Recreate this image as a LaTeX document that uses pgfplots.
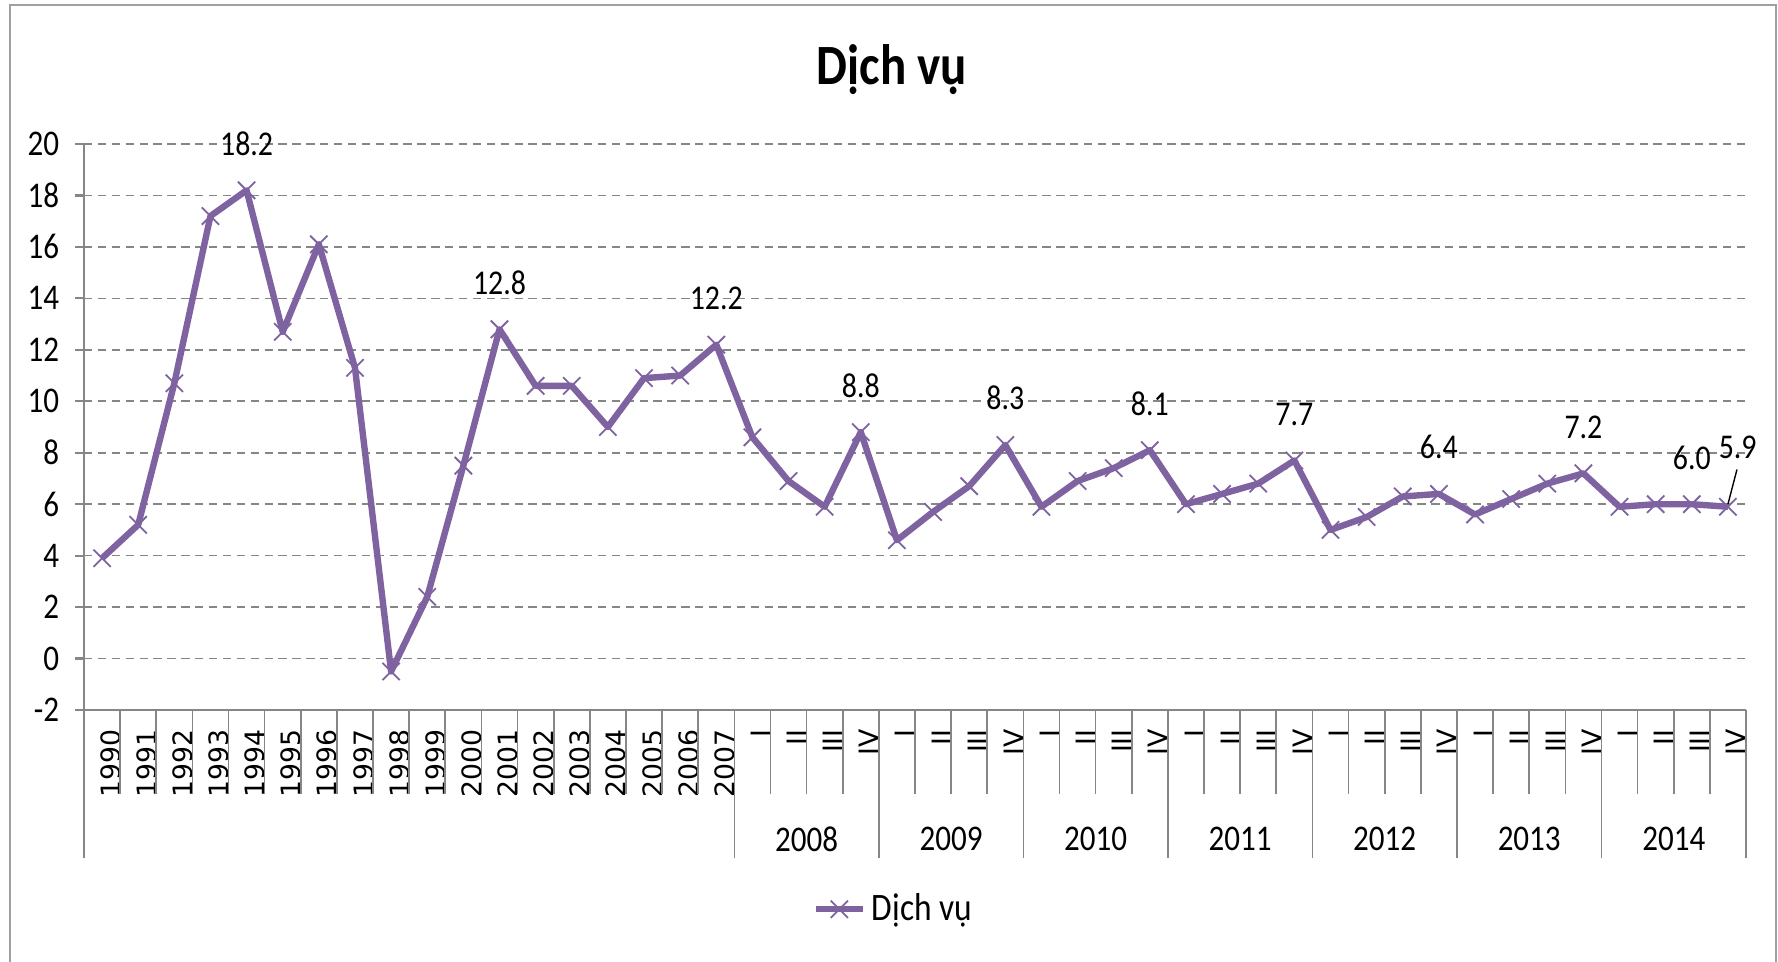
\documentclass[border=0pt]{standalone}
\usepackage{fontspec}
\setmainfont{Carlito}[FakeStretch=0.86]
\newfontfamily\dejavu{DejaVu Sans}
\usepackage{graphicx}
\usepackage{pgfplots}
\pgfplotsset{compat=1.18}
\definecolor{series}{HTML}{7F63A1}
\definecolor{axgray}{HTML}{868686}
\definecolor{framegray}{HTML}{A0A0A0}

\begin{document}
\begin{tikzpicture}
\useasboundingbox (0,0) rectangle (640.08pt,-345.96pt);
\begin{scope}[x=0.36pt,y=-0.36pt]
  \draw[framegray, line width=0.8pt] (10,975) -- (10,5) -- (1776,5) -- (1776,975);
  \node at (892,70) {\fontsize{20.5}{24}\selectfont\bfseries Dịch vụ};
\end{scope}
\begin{axis}[
  at={(30.24pt,-255.6pt)}, anchor=south west,
  scale only axis, width=598.32pt, height=203.76pt,
  xmin=-0.5, xmax=45.5, ymin=-2, ymax=20,
  ytick={-2,0,...,20},
  xtick={0,...,45},
  xticklabels={1990,1991,1992,1993,1994,1995,1996,1997,1998,1999,2000,2001,2002,2003,2004,2005,2006,2007,
    I,II,III,IV,I,II,III,IV,I,II,III,IV,I,II,III,IV,I,II,III,IV,I,II,III,IV,I,II,III,IV},
  axis x line*=bottom, axis y line*=left,
  axis line style={axgray, line width=0.8pt, -},
  xtick style={draw=none},
  ytick style={axgray, line width=0.8pt},
  tick align=outside, major tick length=3.4pt,
  ymajorgrids,
  major grid style={axgray, line width=0.6pt, dash pattern=on 3pt off 2pt},
  xticklabel style={rotate=90, anchor=east, font=\dejavu\fontsize{9.6}{10}\selectfont, yshift=-3pt},
  yticklabel style={font=\fontsize{13}{15}\selectfont, xshift=-2pt},
  /pgf/number format/assume math mode=true,
  legend style={at={(0.488,-0.352)}, anchor=center, draw=none, fill=none,
    font=\fontsize{14}{16}\selectfont},
  clip=false,
]
\addplot[series, line width=2.3pt, line join=round, mark=x, mark size=4.4pt,
  mark options={line width=0.65pt, solid},
  nodes near coords, point meta=explicit symbolic,
  every node near coord/.append style={anchor=south, yshift=8.9pt, black, font=\fontsize{12.5}{14}\selectfont}]
  table[x=x, y=y, meta=lab, col sep=comma, row sep=\\] {
x,y,lab\\
0,3.9,\\
1,5.2,\\
2,10.7,\\
3,17.2,\\
4,18.2,18.2\\
5,12.7,\\
6,16.1,\\
7,11.3,\\
8,-0.5,\\
9,2.4,\\
10,7.5,\\
11,12.8,12.8\\
12,10.6,\\
13,10.6,\\
14,9.0,\\
15,10.9,\\
16,11.0,\\
17,12.2,12.2\\
18,8.6,\\
19,6.9,\\
20,5.9,\\
21,8.8,8.8\\
22,4.6,\\
23,5.7,\\
24,6.7,\\
25,8.3,8.3\\
26,5.9,\\
27,6.9,\\
28,7.4,\\
29,8.1,8.1\\
30,6.0,\\
31,6.4,\\
32,6.8,\\
33,7.7,7.7\\
34,5.0,\\
35,5.5,\\
36,6.3,\\
37,6.4,6.4\\
38,5.6,\\
39,6.2,\\
40,6.8,\\
41,7.2,7.2\\
42,5.9,\\
43,6.0,\\
44,6.0,6.0\\
45,5.9,\\
};
\addlegendentry{Dịch vụ}
\draw[black, line width=0.5pt] (axis cs:45,6.0) -- (axis cs:45.25,7.35);
\node[font=\fontsize{12.5}{14}\selectfont] at (axis cs:45.27,8.22) {5.9};
\end{axis}
\begin{scope}[x=0.36pt,y=-0.36pt]
  \foreach \k in {1,...,17,19,20,21,23,24,25,27,28,29,31,32,33,35,36,37,39,40,41,43,44,45}
    \draw[axgray, line width=0.6pt] ({84+\k*36.1304},710) -- ({84+\k*36.1304},794);
  \foreach \k in {0,18,22,26,30,34,38,42,46}
    \draw[axgray, line width=0.6pt] ({84+\k*36.1304},710) -- ({84+\k*36.1304},858);
  \foreach \yr [count=\g from 0] in {2008,2009,2010,2011,2012,2013,2014}
    \node[font=\fontsize{13}{15}\selectfont] at ({84+(20+4*\g)*36.1304},839) {\yr};
\end{scope}
\end{tikzpicture}
\end{document}
